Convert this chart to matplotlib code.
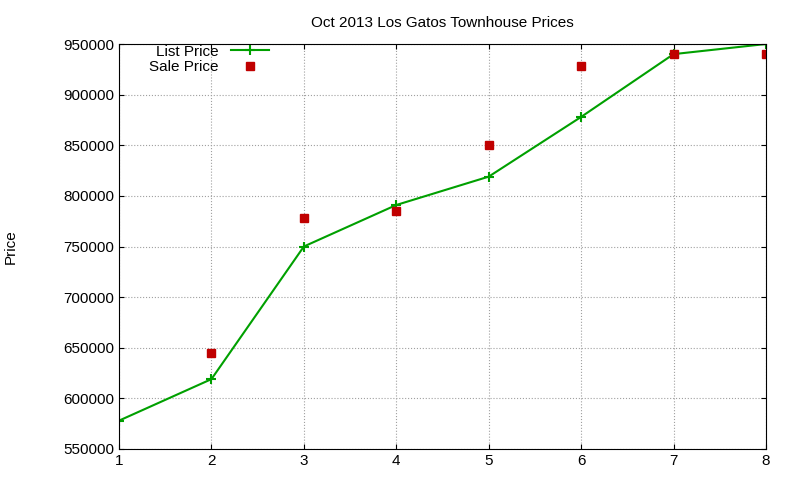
import matplotlib
matplotlib.use("Agg")
import matplotlib.pyplot as plt

list_x = [1, 2, 3, 4, 5, 6, 7, 8]
list_price = [578000, 619000, 750000, 791000, 819000, 878000, 940000, 950000]
sale_x = [2, 3, 4, 5, 6, 7, 8]
sale_price = [645000, 778000, 785000, 850000, 928000, 940000, 940000]
yticks = list(range(550000, 950001, 50000))

plt.rcParams['font.family'] = ['Liberation Sans', 'DejaVu Sans']
fig = plt.figure(figsize=(8, 4.8), dpi=100)
ax = fig.add_axes([119/800, 1-449/480, (766-119)/800, (449-44)/480])
ax.plot(list_x, list_price, color='#00a000', lw=1.5, marker='+', ms=7, mew=1.5, label='List Price')
ax.plot(sale_x, sale_price, ls='none', marker='s', color='#c00000', ms=6, label='Sale Price')
ax.set_xlim(1, 8)
ax.set_ylim(550000, 950000)
ax.set_yticks(yticks)
ax.set_yticklabels([str(v) for v in yticks])
ax.grid(True, color='#a0a0a0', ls=':', lw=0.8)
ax.tick_params(direction='in', labelsize=11, top=True, right=True)
ax.set_ylabel('Price', fontsize=11, labelpad=33)
ax.set_title('Oct 2013 Los Gatos Townhouse Prices', fontsize=11, pad=12)
ax.legend(loc='upper left', markerfirst=False, frameon=False, fontsize=11,
          bbox_to_anchor=(0.03, 1.025), handlelength=2.5, borderpad=0.2, labelspacing=0.1)
fig.savefig('out.png', dpi=100)
